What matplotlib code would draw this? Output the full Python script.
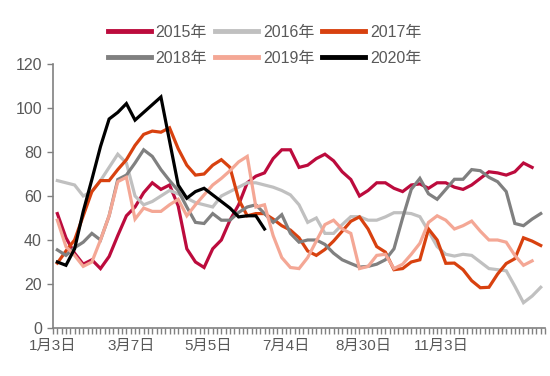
#!/usr/bin/env python3
# -*- coding: utf-8
"""
各年度周度数据对比（2015-2020年）。
"""
#%%
import numpy as np
import matplotlib
matplotlib.use('Agg')
import matplotlib.pyplot as plt

plt.rcParams['font.family'] = ['Liberation Sans', 'Noto Sans CJK SC', 'DejaVu Sans']

#%%
# 周序号 0..56，刻度标签每 9 周一个
周数 = 57
刻度标签 = ['1月3日', '3月7日', '5月5日', '7月4日', '8月30日', '11月3日']
标签间隔 = 9

nan = np.nan
y2015 = [52, 41, 34, 29, 31, 27, 32.5, 42, 51, 55, 61.5, 66, 63, 65, 55.5, 36, 30, 27.5, 36,
         40, 49, 56, 66, 69, 70.5, 77, 81, 81, 73, 74, 77, 79, 76, 71, 67.5, 60, 62.5, 66,
         66, 63.5, 62, 65, 65.5, 63.5, 66, 66, 64, 63, 65, 68, 71, 70.5, 69.5, 71, 75, 73, nan]
y2016 = [67, 66, 65, 60, 62, 67, 73, 79, 75, 60, 56, 57.5, 60, 62.5, 61, 59, 57, 56, 55,
         60, 62, 64, 66, 66, 65, 64, 62.5, 60.5, 56, 48, 50, 43, 43, 47, 50.6, 50.6, 49, 49,
         50.5, 52.4, 52.4, 52, 50.6, 44, 37, 33.5, 32.7, 33.5, 33, 30, 27, 26.5, 26, 19,
         11.5, 14.5, 18.5]
y2017 = [29.5, 35, 40, 51, 62, 67, 67, 72, 76.5, 83, 88, 89.5, 89, 91, 81.5, 74, 69.5, 70,
         74, 76.5, 73, 58.5, 51, 52, 52, 49.5, 46.5, 44.5, 41, 35, 33, 35.7, 39.5, 44, 48.5,
         50.5, 45, 37, 34.5, 26.5, 27, 30, 31, 45, 40, 29.4, 29.5, 26.5, 21.5, 18.3, 18.5,
         24.5, 29.3, 31.5, 41, 39.5, 37.5]
y2018 = [35.5, 33, 36.5, 39, 43, 40, 51, 67.5, 69.5, 75, 81, 78, 72, 67, 62.5, 55, 48,
         47.5, 52, 49, 49, 52.5, 55, 56, 52, 48, 51.5, 43, 39, 40, 40, 38, 34, 31, 29.3,
         27.7, 28, 29, 31, 36, 50, 63, 68, 61, 58.5, 63, 67.6, 67.6, 72, 71.5, 68.5, 66.5,
         62, 47.5, 46.5, 49.5, 52]
y2019 = [49, 37, 33, 28, 30, 40, 51, 66.5, 68.5, 49.5, 54.5, 53, 53, 56, 58.5, 51, 56,
         60.5, 65, 68, 71.5, 75.5, 78, 55, 56, 42, 32, 27.5, 27, 32, 39.5, 47, 49, 45, 43,
         27, 28, 33, 33.5, 27, 29, 33.5, 38.5, 48, 51, 49, 45, 46.5, 48.6, 44, 40, 40, 39,
         33, 28.5, 30.5, nan]
y2020 = [30, 28.5, 36, 53, 67.5, 82.5, 95, 98, 102, 94.5, 98, 101.5, 105, 85, 65, 59, 62,
         63.5, 60.5, 57.5, 54.5, 50.5, 51, 51, 45] + [nan] * 32

年份 = ['2015年', '2016年', '2017年', '2018年', '2019年', '2020年']
颜色 = ['#BC0B3D', '#C0C0C0', '#D8410F', '#808080', '#F4A795', '#000000']

#%%
fig = plt.figure(figsize=(5.5, 3.76), dpi=100)
ax = fig.add_axes([0.0964, 0.1277, 0.8946, 0.7021])

x = np.arange(周数)
线 = []
for serie, cor, nome in zip([y2015, y2016, y2017, y2018, y2019, y2020], 颜色, 年份):
    l, = ax.plot(x, serie, color=cor, linewidth=2.3, label=nome, solid_joinstyle='miter')
    线.append(l)

ax.set_ylim(0, 120)
ax.set_yticks(np.arange(0, 121, 20))
ax.set_xlim(-0.5, 周数 - 0.5)
ax.set_xticks(np.arange(-0.5, 周数, 0.5), minor=True)
ax.set_xticks(np.arange(len(刻度标签)) * 标签间隔 - 0.5)
ax.set_xticklabels(刻度标签)

cinza = '#808080'
for lado in ['top', 'right']:
    ax.spines[lado].set_visible(False)
for lado in ['left', 'bottom']:
    ax.spines[lado].set_color(cinza)
    ax.spines[lado].set_linewidth(1.2)
ax.tick_params(axis='both', which='both', color=cinza, width=1.0, length=4.0,
               labelsize=11, labelcolor='#595959')
ax.tick_params(axis='y', pad=4, labelsize=11.5)
ax.tick_params(axis='x', pad=4)

# 图例：两行三列（按行排列）
ordem = [0, 3, 1, 4, 2, 5]
fig.legend([线[i] for i in ordem], [年份[i] for i in ordem], ncol=3, loc='center',
           bbox_to_anchor=(0.481, 0.879), frameon=False, fontsize=11.5,
           handlelength=2.7, handletextpad=0.3, columnspacing=0.5,
           labelspacing=0.7, borderpad=0, labelcolor='#595959')
for h in fig.legends[0].legend_handles:
    h.set_linewidth(3.5)

fig.savefig('out.png', dpi=100)
